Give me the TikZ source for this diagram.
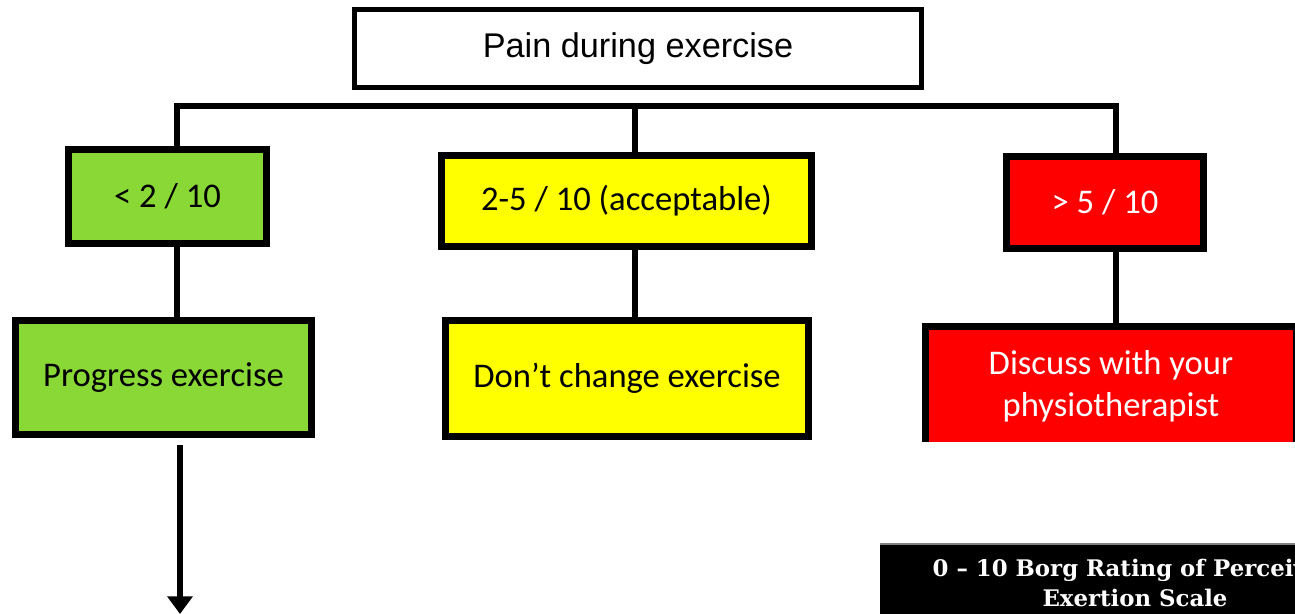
\documentclass[tikz,border=0pt]{standalone}
\usepackage{fontspec}
\usetikzlibrary{arrows.meta}
\newfontfamily\boxfont{Carlito}
\newfontfamily\topfont{Liberation Sans}
\newfontfamily\borgfont{DejaVu Serif}
\definecolor{boxgreen}{RGB}{137,216,54}
\definecolor{boxyellow}{RGB}{255,255,0}
\definecolor{boxred}{RGB}{255,0,0}
\tikzset{
  flowbox/.style={draw=black, line width=3.8pt, inner sep=0pt, align=center,
    font=\boxfont\fontsize{19.7}{23.8}\selectfont},
  greenbox/.style={flowbox, fill=boxgreen, text=black},
  yellowbox/.style={flowbox, fill=boxyellow, text=black},
  redbox/.style={flowbox, fill=boxred, text=white},
  link/.style={draw=black, line width=3.1pt},
}
\begin{document}
\begin{tikzpicture}[x=0.02cm, y=-0.02cm]
\useasboundingbox (0,0) rectangle (1295,613);
\clip (0,0) rectangle (1295,613);
% top box
\node[draw=black, line width=2.6pt, fill=white, inner sep=0pt,
  minimum width=11.34cm, minimum height=1.56cm,
  font=\topfont\fontsize{19.5}{23}\selectfont] (top) at (638,48.5) {Pain during exercise};
% first row
\node[greenbox, minimum width=3.96cm, minimum height=1.88cm] (g1) at (167.5,196.5) {< 2 / 10};
\node[yellowbox, minimum width=7.40cm, minimum height=1.82cm] (y1) at (626.5,201) {2-5 / 10 (acceptable)};
\node[redbox, minimum width=3.94cm, minimum height=1.84cm] (r1) at (1105,202.5) {> 5 / 10};
% second row
\node[greenbox, minimum width=5.92cm, minimum height=2.28cm] (g2) at (163.5,377.5) {Progress exercise};
\node[yellowbox, minimum width=7.26cm, minimum height=2.32cm] (y2) at (627,378.5) {Don’t change exercise};
\begin{scope}
\clip (900,300) rectangle (1300,441);
\node[redbox, minimum width=7.42cm, minimum height=2.38cm] (r2) at (1111,386) {Discuss with your\\physiotherapist};
\end{scope}
% bus
\coordinate (jl) at (177,106);
\coordinate (jm) at (635,106);
\coordinate (jr) at (1116,106);
\draw[link] (jl |- g1.north) -- (jl) -- (jr) -- (jr |- r1.north);
\draw[link] (jm) -- (jm |- y1.north);
% vertical links
\draw[link] (g1.south -| jl) -- (g2.north -| jl);
\draw[link] (y1.south -| jm) -- (y2.north -| jm);
\draw[link] (r1.south -| jr) -- (r2.north -| jr);
% arrow
\coordinate (arrend) at (180,614);
\draw[link, shorten <=4pt, -{Triangle[width=14pt,length=10pt]}] (g2.south -| arrend) -- (arrend);
% Borg scale header
\fill[black] (880,544) rectangle (1300,620);
\draw[gray, line width=0.6pt] (880,544) -- (1300,544);
\node[text=white, align=center, inner sep=0pt,
  font=\borgfont\bfseries\fontsize{13}{17}\selectfont] (borg) at (1135,583)
  {0 – 10 Borg Rating of Perceived\\Exertion Scale};
\end{tikzpicture}
\end{document}
